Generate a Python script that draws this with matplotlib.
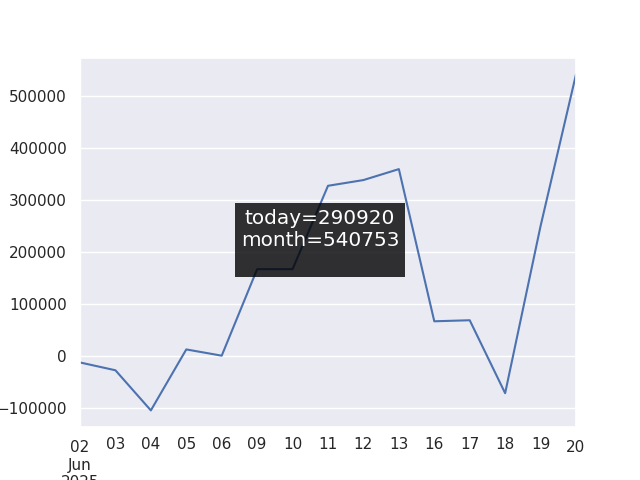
import numpy as np
import pandas as pd
import seaborn as sns
import matplotlib
matplotlib.use("Agg")
import matplotlib.pyplot as plt

sns.set_theme()

# daily profit, business days of June 2025
dates = pd.bdate_range("2025-06-02", "2025-06-20")
values = [-12000, -27000, -104000, 13000, 1000, 167000, 167000, 327000,
          338000, 359000, 67000, 69000, -71000, 249833, 540753]
today = 290920
month = 540753

s = pd.Series(values, index=dates)

fig = plt.figure(figsize=(6.4, 4.8), dpi=100)
ax = fig.add_subplot(111)
s.plot(ax=ax)

fig.text(0.5, 0.5, f"today={today}\nmonth={month}\n", ha="center", va="center",
         fontsize=14.4, color="white",
         bbox=dict(facecolor="black", alpha=0.8, edgecolor="none"))

plt.savefig("out.png")
